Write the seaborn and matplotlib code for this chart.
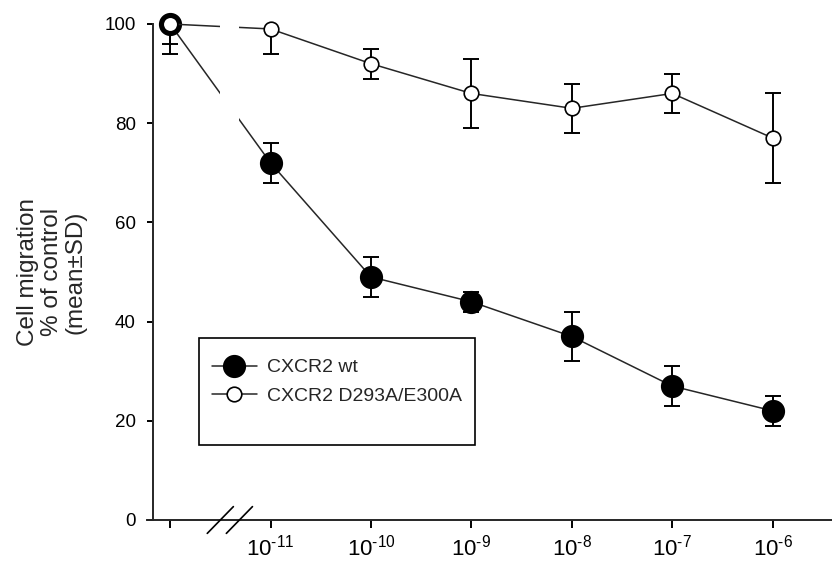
import numpy as np
import pandas as pd
import matplotlib.pyplot as plt
import seaborn as sns
from matplotlib.patches import Rectangle

concentrations = ["control", "1e-11", "1e-10", "1e-9", "1e-8", "1e-7", "1e-6"]
tick_labels = ["", r"$\mathregular{10^{\text{-}11}}$", r"$\mathregular{10^{\text{-}10}}$",
               r"$\mathregular{10^{\text{-}9}}$", r"$\mathregular{10^{\text{-}8}}$",
               r"$\mathregular{10^{\text{-}7}}$", r"$\mathregular{10^{\text{-}6}}$"]
series_names = ["CXCR2 wt", "CXCR2 D293A/E300A"]
wt_mean = [100, 72, 49, 44, 37, 27, 22]
wt_sd = [6, 4, 4, 2, 5, 4, 3]
mut_mean = [100, 99, 92, 86, 83, 86, 77]
mut_sd = [4, 5, 3, 7, 5, 4, 9]
y_ticks = [0, 20, 40, 60, 80, 100]

positions = np.arange(len(concentrations))
df = pd.concat([
    pd.DataFrame({"pos": positions, "mean": wt_mean, "sd": wt_sd, "series": series_names[0]}),
    pd.DataFrame({"pos": positions, "mean": mut_mean, "sd": mut_sd, "series": series_names[1]}),
], ignore_index=True)

sns.set_style("ticks")
plt.rcParams["font.family"] = ["Liberation Sans", "DejaVu Sans"]
plt.rcParams["mathtext.fontset"] = "custom"
plt.rcParams["mathtext.rm"] = "Liberation Sans"
plt.rcParams["mathtext.it"] = "Liberation Sans:italic"

fig = plt.figure(figsize=(8.32, 5.62), dpi=100)
ax = fig.add_axes([147 / 832, 42 / 562, 685 / 832, 496 / 562])

marker_styles = {
    series_names[0]: dict(markersize=15.5, markerfacecolor="black", markeredgecolor="black"),
    series_names[1]: dict(markersize=10.5, markerfacecolor="white", markeredgecolor="black"),
}

for name in series_names:
    sub = df[df["series"] == name]
    ax.errorbar(sub["pos"], sub["mean"], yerr=sub["sd"], fmt="none", ecolor="black",
                elinewidth=1.4, capsize=5.5, capthick=1.4, zorder=3)
    sns.lineplot(data=sub, x="pos", y="mean", ax=ax, color="#262626", linewidth=1.1,
                 marker="o", markeredgewidth=1.2, label=name, zorder=4, clip_on=False,
                 **marker_styles[name])

# axis break: hide the connecting lines between the two slashes
ax.axvspan(0.50, 0.69, ymin=0.008, ymax=1, color="white", zorder=5, lw=0)
for c in (0.50, 0.69):
    ax.plot([c - 0.13, c + 0.13], [-2.7, 2.7], color="black", lw=1.2,
            clip_on=False, zorder=7)

ax.set_xlim(-0.23, 6.59)
ax.set_ylim(0, 100)
ax.spines["left"].set_position(("data", -0.17))
ax.spines["top"].set_visible(False)
ax.spines["right"].set_visible(False)
for side in ("left", "bottom"):
    ax.spines[side].set_linewidth(1.4)

ax.set_xticks(positions)
ax.set_xticklabels(tick_labels, fontsize=16)
ax.set_yticks(y_ticks)
ax.set_yticklabels([str(v) for v in y_ticks], fontsize=13.5)
ax.tick_params(axis="x", direction="out", length=5.8, width=1.4, pad=5, colors="black")
ax.tick_params(axis="y", direction="out", length=4.3, width=1.4, pad=8, colors="black")

ax.set_xlabel("")
ax.set_ylabel("Cell migration\n% of control\n(mean\u00b1SD)", fontsize=17.5, linespacing=1.12)
ax.yaxis.set_label_coords(-0.088, 0.5)

handles, labels = ax.get_legend_handles_labels()
ax.legend(handles, labels, frameon=False, loc="upper left", bbox_to_anchor=(0.095, 0.325),
          borderpad=0, borderaxespad=0, fontsize=14, handlelength=2.3,
          handletextpad=0.55, labelspacing=0.55)
ax.add_patch(Rectangle((0.076, 0.151), 0.403, 0.216, transform=ax.transAxes,
                       fill=False, edgecolor="black", lw=1.2, zorder=6))

fig.savefig("out.png", dpi=100)
